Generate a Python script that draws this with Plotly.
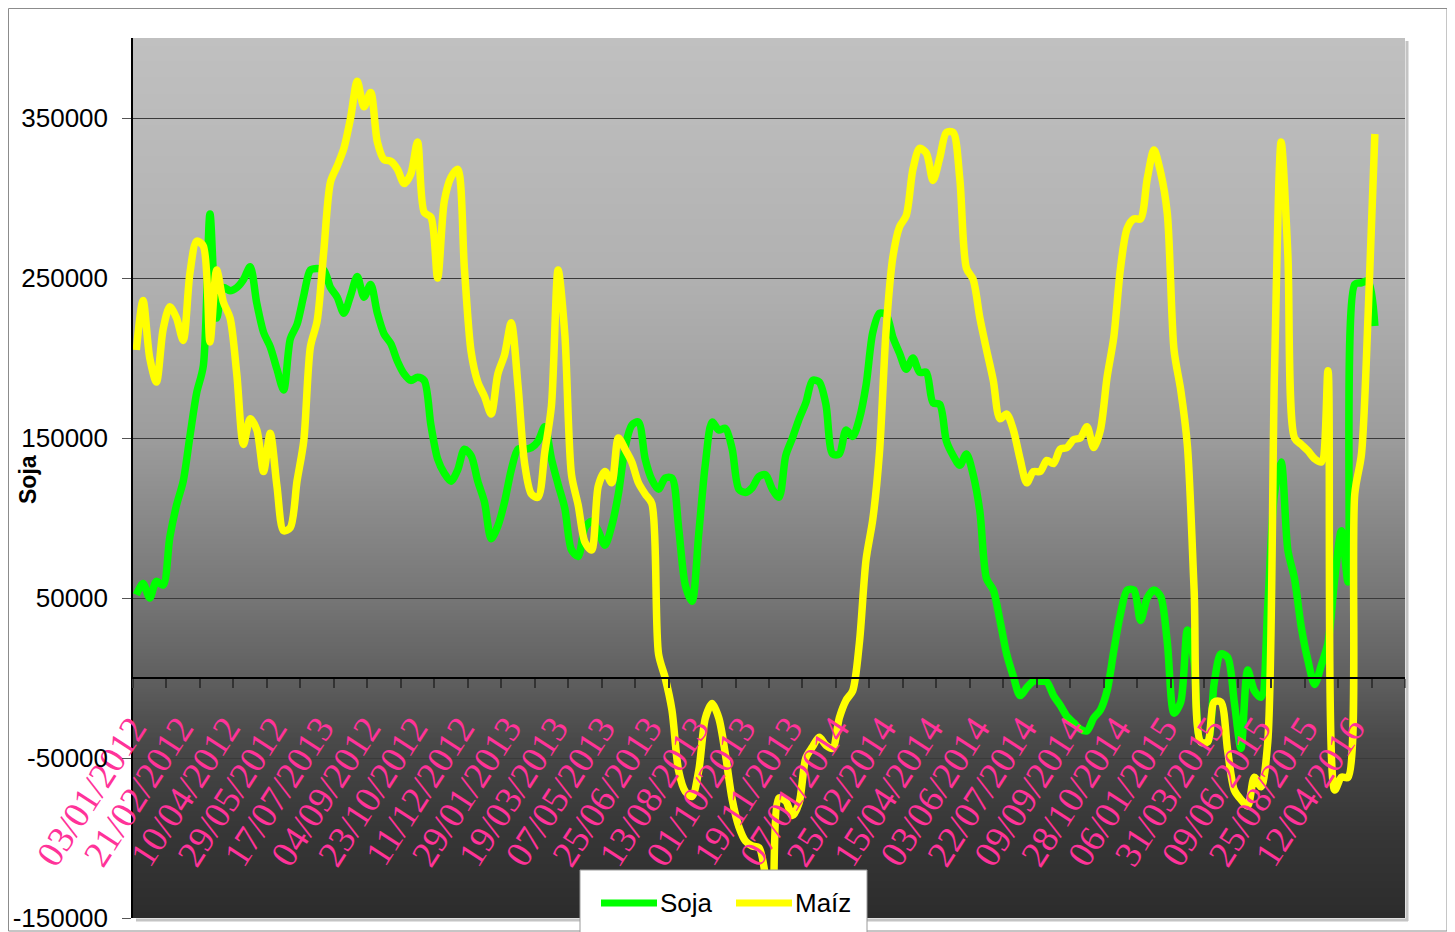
import base64
import struct
import zlib
import plotly.graph_objects as go

# ---------------- data ----------------
fechas = ["03/01/2012", "21/02/2012", "10/04/2012", "29/05/2012", "17/07/2013",
          "04/09/2012", "23/10/2012", "11/12/2012", "29/01/2013", "19/03/2013",
          "07/05/2013", "25/06/2013", "13/08/2013", "01/10/2013", "19/11/2013",
          "07/01/2014", "25/02/2014", "15/04/2014", "03/06/2014", "22/07/2014",
          "09/09/2014", "28/10/2014", "06/01/2015", "31/03/2015", "09/06/2015",
          "25/08/2015", "12/04/2016"]

soja = [52000, 59000, 50000, 60500, 58000, 88000, 108000, 123000, 151000, 178000,
        195000, 290000, 225000, 244000, 242000, 244000, 249000, 257000, 234000, 216000,
        207000, 193000, 180000, 212000, 221000, 239000, 255000, 256000, 255000, 244000,
        238000, 228000, 239000, 251000, 238000, 246000, 228000, 215000, 209000, 198000,
        190000, 186000, 188000, 186000, 158000, 137000, 128000, 123000, 130000, 143000,
        139000, 123000, 110000, 87000, 95000, 110000, 130000, 143000, 143000, 144000,
        148000, 157000, 137000, 121000, 106000, 80000, 76000, 94000, 98000, 92000,
        83000, 95000, 115000, 144000, 158000, 160000, 137000, 124000, 118000, 125000,
        125000, 94000, 58000, 48000, 90000, 134000, 160000, 155000, 156000, 143000,
        118000, 116000, 119000, 126000, 127000, 118000, 113000, 139000, 150000, 162000,
        172000, 186000, 185000, 171000, 140000, 140000, 155000, 151000, 162000, 183000,
        216000, 228000, 227000, 213000, 203000, 193000, 200000, 191000, 191000, 172000,
        171000, 148000, 139000, 133000, 140000, 127000, 104000, 62000, 55000, 36000,
        15000, 1000, -11000, -6000, -2000, -2000, -2500, -11000, -17000, -24000,
        -28000, -32000, -33000, -25000, -20000, -8000, 17000, 40000, 55000, 55000,
        36000, 50000, 55000, 51000, 22000, -22000, -15000, 30000, 10000, -40000,
        -40000, -3000, 15000, 13000, -15000, -44000, 5000, -8000, -12000, 45000,
        115000, 135000, 80000, 62000, 32000, 11000, -4000, 8000, 22000, 62000,
        92000, 60000, 246000, 247000, 248000, 220000]

maiz = [205000, 236000, 200000, 185000, 218000, 232000, 225000, 211000, 253000, 273000,
        270000, 210000, 255000, 235000, 225000, 190000, 146000, 162000, 155000, 129000,
        153000, 120000, 92000, 94000, 123000, 148000, 207000, 223000, 267000, 310000,
        320000, 331000, 350000, 373000, 357000, 366000, 335000, 324000, 323000, 318000,
        309000, 315000, 335000, 291000, 288000, 250000, 298000, 313000, 318000, 256000,
        204000, 185000, 176000, 165000, 190000, 202000, 222000, 183000, 134000, 115000,
        113000, 141000, 170000, 255000, 215000, 127000, 108000, 85000, 80000, 120000,
        129000, 122000, 150000, 143000, 135000, 122000, 115000, 109000, 15000, 0,
        -20000, -58000, -71000, -74000, -58000, -25000, -16000, -25000, -48000, -76000,
        -93000, -102000, -105000, -106000, -125000, -170000, -75000, -77000, -86000, -78000,
        -50000, -43000, -37000, -42000, -44000, -25000, -14000, -8000, 22000, 74000,
        99000, 141000, 218000, 263000, 282000, 289000, 318000, 331000, 328000, 311000,
        325000, 341000, 341000, 312000, 256000, 249000, 225000, 205000, 186000, 162000,
        165000, 155000, 137000, 122000, 129000, 129000, 136000, 134000, 143000, 144000,
        149000, 150000, 157000, 144000, 155000, 188000, 213000, 256000, 281000, 287000,
        287000, 312000, 330000, 316000, 290000, 205000, 180000, 145000, 55000, -40000,
        -40000, -15000, -15000, -45000, -70000, -76000, -80000, -62000, -68000, -40000,
        190000, 335000, 265000, 150000, 146000, 142000, 137000, 135000, 192000, -70000,
        -62000, -62000, 115000, 140000, 228000, 340000]

y_ticks = [-150000, -50000, 50000, 150000, 250000, 350000]

# ---------------- geometry (page has an 8px body margin) ----------------
OFF = 8
W, H = 1455 - OFF, 932 - OFF
L, T = 133 - OFF, 38 - OFF
R = W - (1405 - OFF)
B = H - (918 - OFF)
PW, PH = W - L - R, H - T - B


def px(xs):
    """screen x pixel -> paper fraction"""
    return (xs - OFF - L) / PW


def py(ys):
    """screen y pixel -> paper fraction"""
    return (H - B - (ys - OFF)) / PH


def gradient_png(stops, h=512):
    raw = b""
    for k in range(h):
        t = k / (h - 1)
        for (t0, g0), (t1, g1) in zip(stops[:-1], stops[1:]):
            if t0 <= t <= t1:
                g = g0 + (g1 - g0) * (t - t0) / (t1 - t0)
                break
        raw += b"\x00" + bytes([int(round(g))])

    def chunk(tag, data):
        c = struct.pack(">I", len(data)) + tag + data
        return c + struct.pack(">I", zlib.crc32(tag + data) & 0xffffffff)

    png = (b"\x89PNG\r\n\x1a\n"
           + chunk(b"IHDR", struct.pack(">IIBBBBB", 1, h, 8, 0, 0, 0, 0))
           + chunk(b"IDAT", zlib.compress(raw))
           + chunk(b"IEND", b""))
    return "data:image/png;base64," + base64.b64encode(png).decode()


grad = gradient_png([(0.0, 192), (0.27, 177), (0.45, 157), (0.64, 117),
                     (0.73, 95), (0.80, 73), (0.90, 55), (1.0, 44)])

x = list(range(len(soja)))
n_cat = 190
y_min, y_max = -150000, 400000
zero_pos = (0 - y_min) / (y_max - y_min)

fig = go.Figure()
fig.add_trace(go.Scatter(x=x, y=soja, name="Soja", mode="lines",
                         line=dict(color="#00FF00", width=7.5, shape="spline", smoothing=0.8),
                         showlegend=False))
fig.add_trace(go.Scatter(x=x, y=maiz, name="Maíz", mode="lines",
                         line=dict(color="#FFFF00", width=7.5, shape="spline", smoothing=0.8),
                         showlegend=False))

fig.update_layout(
    width=W, height=H, autosize=False,
    margin=dict(l=L, r=R, t=T, b=B, autoexpand=False),
    paper_bgcolor="white", plot_bgcolor="#808080",
    showlegend=False,
    font=dict(family="Liberation Sans, Arial", color="black"),
    images=[dict(source=grad, xref="paper", yref="paper", x=0, y=1, sizex=1, sizey=1,
                 sizing="stretch", xanchor="left", yanchor="top", layer="below")],
    xaxis=dict(range=[-0.5, n_cat - 0.5], anchor="free", position=zero_pos,
               automargin=False,
               showline=True, linecolor="black", linewidth=1.5,
               tickmode="array", tickvals=[7 * k for k in range(len(fechas))],
               ticktext=fechas, ticks="", tickangle=-57,
               ticklabelstandoff=13, ticklabelshift=-4, ticklabeloverflow="allow",
               tickfont=dict(family="Liberation Serif, Times New Roman", size=37, color="#FF3399"),
               showgrid=False, zeroline=False,
               minor=dict(tickmode="linear", tick0=-0.5, dtick=5, ticks="outside",
                          ticklen=9, tickcolor="#333333", tickwidth=1.5, showgrid=False)),
    xaxis2=dict(range=[-0.5, n_cat - 0.5], overlaying="x", anchor="free", position=zero_pos,
                automargin=False,
                showline=False, showticklabels=False, ticks="", showgrid=False, zeroline=False,
                minor=dict(tickmode="linear", tick0=-0.5, dtick=5, ticks="inside",
                           ticklen=9, tickcolor="#333333", tickwidth=1.5, showgrid=False)),
    yaxis=dict(range=[y_min, y_max], tickmode="array", tickvals=y_ticks,
               ticktext=[str(v) for v in y_ticks], automargin=False,
               showgrid=True, gridcolor="#3a3a3a", gridwidth=1, zeroline=False,
               showline=True, linecolor="black", linewidth=1.5,
               ticks="outside", ticklen=9, tickcolor="#555555", ticklabelstandoff=9,
               ticklabeloverflow="allow",
               tickfont=dict(family="Liberation Sans, Arial", size=26, color="black")),
)

shapes = [
    # outer chart frame
    dict(type="rect", xref="paper", yref="paper", x0=px(8.5), x1=px(1447), y0=py(931), y1=py(8.5),
         line=dict(color="#8c8c8c", width=1), layer="below"),
    # plot-area shadow (right and bottom)
    dict(type="line", xref="paper", yref="paper", x0=px(1407), x1=px(1407), y0=py(921), y1=py(41),
         line=dict(color="#c4c4c4", width=3)),
    dict(type="line", xref="paper", yref="paper", x0=px(136), x1=px(1408), y0=py(920), y1=py(920),
         line=dict(color="#c4c4c4", width=3)),
    # legend box
    dict(type="rect", xref="paper", yref="paper", x0=px(580), x1=px(867), y0=py(945), y1=py(870),
         fillcolor="white", line=dict(color="#9a9a9a", width=1)),
    dict(type="line", xref="paper", yref="paper", x0=px(601), x1=px(657), y0=py(903), y1=py(903),
         line=dict(color="#00FF00", width=7)),
    dict(type="line", xref="paper", yref="paper", x0=px(736), x1=px(792), y0=py(903), y1=py(903),
         line=dict(color="#FFFF00", width=7)),
]
fig.update_layout(shapes=shapes)

annotations = [
    dict(text="<b>Soja</b>", xref="paper", yref="paper", x=px(28), y=py(480), textangle=-90,
         showarrow=False, xanchor="center", yanchor="middle",
         font=dict(family="Liberation Sans, Arial", size=23, color="black")),
    dict(text="Soja", xref="paper", yref="paper", x=px(658), y=py(903), showarrow=False,
         xanchor="left", yanchor="middle",
         font=dict(family="Liberation Sans, Arial", size=26, color="black")),
    dict(text="Maíz", xref="paper", yref="paper", x=px(793), y=py(903), showarrow=False,
         xanchor="left", yanchor="middle",
         font=dict(family="Liberation Sans, Arial", size=26, color="black")),
]
fig.update_layout(annotations=annotations)

fig.write_html("out.html")
